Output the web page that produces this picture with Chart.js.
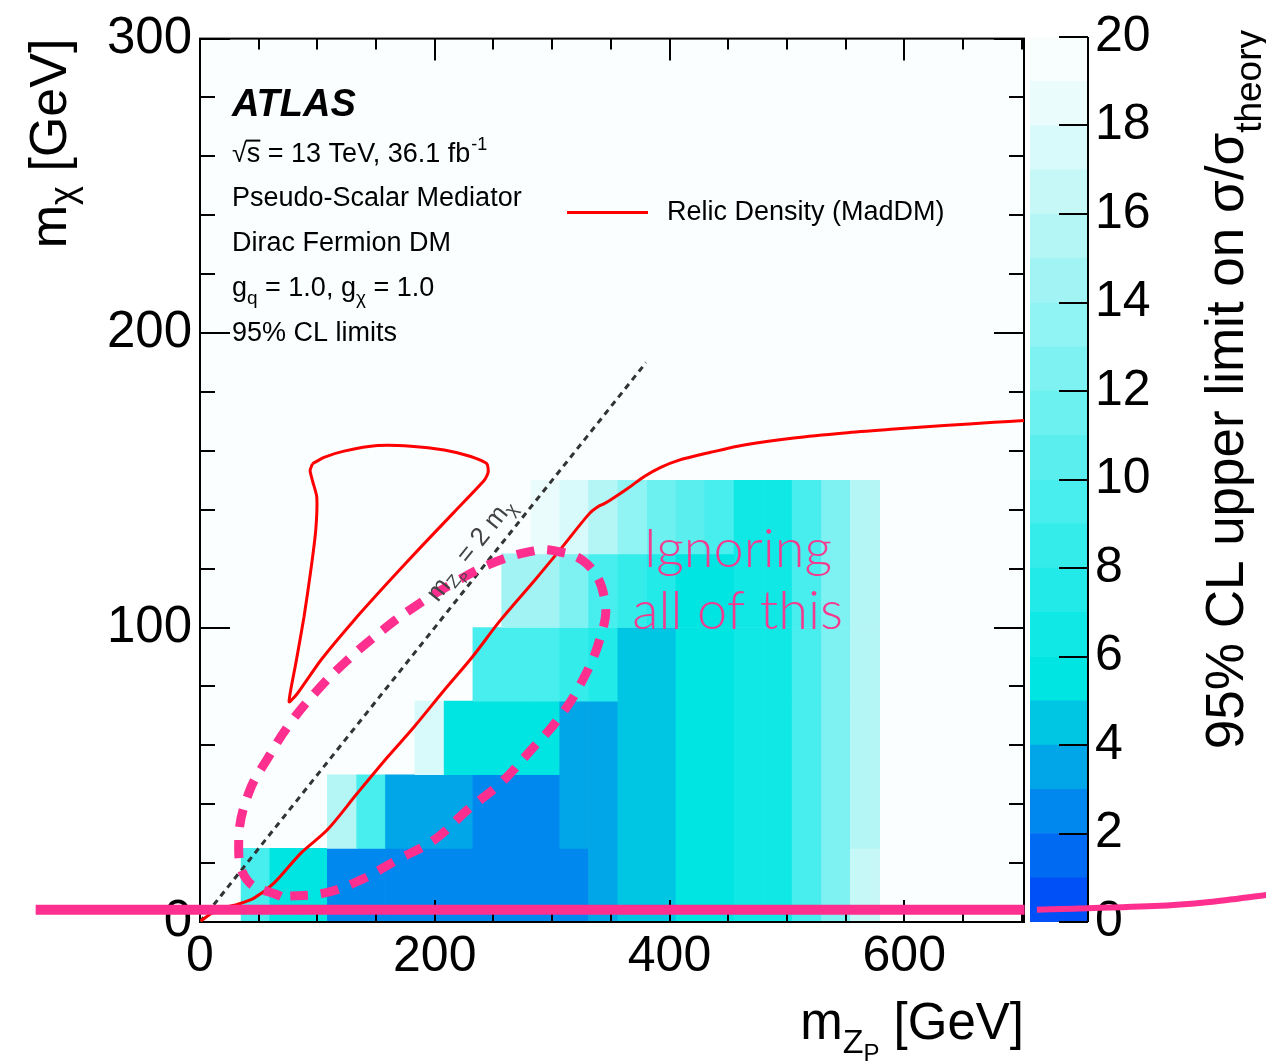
<!DOCTYPE html>
<html>
<head>
<meta charset="utf-8">
<script src="https://cdn.jsdelivr.net/npm/chart.js@4.4.1/dist/chart.umd.min.js"></script>
<style>
  body { margin: 0; background: #fff; }
  #wrap { position: relative; width: 1266px; height: 1064px; }
  #wrap canvas { position: absolute; left: 0; top: 0; }
  #zbar { z-index: 1; }
  #main { z-index: 2; }
</style>
</head>
<body>
<div id="wrap">
  <canvas id="zbar" width="1266" height="1064"></canvas>
  <canvas id="main" width="1266" height="1064"></canvas>
</div>
<script>
// m_Zp bin edges (GeV) and m_chi bin edges (GeV) of the limit histogram
const mZpEdges = [35, 59.5, 84, 108.5, 133.5, 158, 183, 208, 232.5, 257, 282, 306.5,
                  331, 356, 381, 405.5, 430, 455, 480, 504.5, 529.5, 554, 579];
const mChiEdges = [0, 25, 50, 75, 100, 125, 150];

// 95% CL upper limit on sigma/sigma_theory, one row per m_chi bin (bottom to top)
const limitRow0 = [9.5, 5.5, 5.5, 2.5, 2.5, 2.5, 2.5, 2.5, 2.5, 2.5, 2.5, 2.5, 3.5, 4.5, 4.5, 5.5, 5.5, 6.5, 6.5, 9.5, 12.5, 16.5];
const limitRow1 = [null, null, null, 15.5, 9.5, 3.5, 3.5, 3.5, 2.5, 2.5, 2.5, 3.5, 3.5, 4.5, 4.5, 5.5, 5.5, 6.5, 6.5, 9.5, 12.5, 15.5];
const limitRow2 = [null, null, null, null, null, null, 17.5, 5.5, 5.5, 5.5, 5.5, 3.5, 3.5, 4.5, 4.5, 5.5, 5.5, 6.5, 6.5, 9.5, 12.5, 15.5];
const limitRow3 = [null, null, null, null, null, null, null, null, 9.5, 9.5, 9.5, 8.5, 7.5, 4.5, 4.5, 5.5, 5.5, 6.5, 6.5, 9.5, 12.5, 15.5];
const limitRow4 = [null, null, null, null, null, null, null, null, null, 14.5, 14.5, 12.5, 9.5, 8.5, 7.5, 5.5, 5.5, 6.5, 6.5, 9.5, 12.5, 15.5];
const limitRow5 = [null, null, null, null, null, null, null, null, null, null, 18.5, 17.5, 15.5, 13.5, 11.5, 10.5, 9.5, 6.5, 6.5, 9.5, 12.5, 15.5];
const limitRows = [limitRow0, limitRow1, limitRow2, limitRow3, limitRow4, limitRow5];

// relic density (MadDM) contours
const relicMainX = [0.5, 15, 32, 46, 63, 86, 108.5, 134, 160, 182.5, 208, 232, 256, 285, 307.5, 331.5, 339, 344, 350,
                    364, 378.5, 392.5, 407, 435, 463.5, 506, 549, 591.5, 634, 676.5, 702];
const relicMainY = [0.3, 4.2, 6, 8.1, 13.2, 23.4, 31.3, 43.7, 56.1, 66.3, 78.7, 90, 102.5, 116, 126.8, 138.6, 141, 142, 143.4,
                    147.1, 151.3, 154.4, 156.7, 159.5, 162, 164.4, 166.1, 167.4, 168.6, 169.7, 170.3];
const relicLoopX = [95.8, 105.7, 122.7, 151.2, 179.6, 208, 230.7, 244.4, 245.5, 242, 216.5, 188.1, 159.7, 131.3, 102.9,
                    83, 75.9, 81.6, 88.6, 94.4, 98.6, 99.5, 95.8, 93.8, 95.8];
const relicLoopY = [155.6, 157.8, 159.9, 161.8, 161.6, 160.3, 158.1, 155.6, 152.7, 149.9, 139.2, 127.3, 115.1, 102.5, 88.9,
                    77.6, 74.8, 87.8, 103.6, 119.4, 133, 144.3, 149.9, 153.3, 155.6];

// m_Zp = 2 m_chi line
const diagX = [0, 380];
const diagY = [0, 190];

// pink hand-drawn overlay
const pinkLoopX = [69, 40, 33, 41.5, 58.5, 77, 100, 125.5, 155.5, 182.5, 215, 248, 279, 300, 330, 345, 341, 324.5,
                   304.5, 282, 256, 228, 199.5, 168, 137, 105.5, 69];
const pinkLoopY = [8.7, 14.3, 27.9, 43.8, 56.1, 67.6, 78.7, 88.9, 99.1, 107, 114.9, 121.7, 125.6, 126.2, 121.5, 109, 96.5, 81,
                   68.6, 58.4, 47.1, 38.1, 27.9, 21.1, 14.3, 9.8, 8.7];
const pinkLineX = [702.5, -140];
const pinkLineY = [4.2, 4.2];
const pinkTailX = [909, 860, 813, 713];
const pinkTailY = [9.2, 6.8, 5.4, 4.2];

// colour scale bands (value ranges of the z axis)
const zBandLow = [0, 1, 2, 3, 4, 5, 6, 7, 8, 9, 10, 11, 12, 13, 14, 15, 16, 17, 18, 19];

const palette = ['#0050f8', '#006af2', '#0088ee', '#00a6e8', '#00c6e4', '#00e4e2', '#10e8e6', '#22eae8', '#34ecea', '#48eeee',
                 '#5aeeee', '#6cf0f0', '#7ef2f2', '#90f4f4', '#a2f4f4', '#b4f6f6', '#c6f8f8', '#d8fafa', '#eafcfc', '#f8fefe'];
const PINK = '#fe2f8f';
const FONT = "'Liberation Sans', Arial, Helvetica, sans-serif";

Chart.defaults.font.family = FONT;
Chart.defaults.color = '#000';

function bandColor(v) {
  if (v == null) return 'rgba(0,0,0,0)';
  return palette[Math.max(0, Math.min(palette.length - 1, Math.floor(v)))];
}
const toPts = (xs, ys) => xs.map((x, i) => ({x: x, y: ys[i]}));

const cells = [];
limitRows.forEach((row, r) => {
  row.forEach((v, c) => {
    if (v === null) return;
    cells.push({y: (mChiEdges[r] + mChiEdges[r + 1]) / 2, x: [mZpEdges[c], mZpEdges[c + 1]], v: v});
  });
});

// text helpers
function setFont(ctx, p) { ctx.font = (p.w || '') + ' ' + p.s + 'px ' + (p.f || FONT); }
function richWidth(ctx, parts) {
  let w = 0;
  parts.forEach(p => { setFont(ctx, p); w += ctx.measureText(p.t).width; });
  return w;
}
function drawRich(ctx, parts, x, y) {
  let cx = x;
  parts.forEach(p => {
    setFont(ctx, p);
    ctx.fillText(p.t, cx, y + (p.dy || 0));
    cx += ctx.measureText(p.t).width;
  });
  return cx;
}

const mainDecor = {
  id: 'mainDecor',
  beforeDatasetsDraw(chart) {
    const a = chart.chartArea, ctx = chart.ctx;
    ctx.save();
    ctx.fillStyle = '#fafefe';
    ctx.fillRect(a.left, a.top, a.right - a.left, a.bottom - a.top);
    ctx.restore();
  },
  afterDatasetDraw(chart, args) {
    if (chart.data.datasets[args.index].label !== 'cells') return;
    // frame and ROOT style inner ticks, drawn right over the histogram
    const a = chart.chartArea, ctx = chart.ctx, xs = chart.scales.x, ys = chart.scales.y;
    ctx.save();
    ctx.strokeStyle = '#000';
    ctx.lineWidth = 2;
    ctx.strokeRect(a.left, a.top, a.right - a.left, a.bottom - a.top);
    ctx.beginPath();
    for (let v = 0; v <= 700; v += 50) {
      const px = Math.round(xs.getPixelForValue(v));
      const len = v % 200 === 0 ? 22 : 11;
      ctx.moveTo(px, a.bottom); ctx.lineTo(px, a.bottom - len);
      ctx.moveTo(px, a.top); ctx.lineTo(px, a.top + len);
    }
    for (let v = 0; v <= 300; v += 20) {
      const py = Math.round(ys.getPixelForValue(v));
      const len = v % 100 === 0 ? 30 : 15;
      ctx.moveTo(a.left, py); ctx.lineTo(a.left + len, py);
      ctx.moveTo(a.right, py); ctx.lineTo(a.right - len, py);
    }
    ctx.stroke();
    ctx.restore();
  },
  afterDatasetsDraw(chart) {
    const ctx = chart.ctx, xs = chart.scales.x, ys = chart.scales.y;
    ctx.save();
    // "Ignoring all of this"
    ctx.fillStyle = '#f43a8f';
    ctx.textAlign = 'center';
    ctx.textBaseline = 'alphabetic';
    ctx.font = "300 54px Lato, 'Open Sans', " + FONT;
    ctx.fillText('Ignoring', xs.getPixelForValue(458), ys.getPixelForValue(120.4));
    ctx.fillText('all of this', xs.getPixelForValue(458), ys.getPixelForValue(99.4));
    ctx.restore();
  },
  afterDraw(chart) {
    const a = chart.chartArea, ctx = chart.ctx, xs = chart.scales.x, ys = chart.scales.y;
    ctx.save();
    ctx.fillStyle = '#000';
    ctx.textAlign = 'left';
    ctx.textBaseline = 'alphabetic';
    const tx = a.left + 32;
    ctx.font = 'italic bold 38px ' + FONT;
    ctx.fillText('ATLAS', tx, a.top + 77);

    // sqrt(s) line
    let cx = drawRich(ctx, [{t: '\u221A', s: 27}], tx, a.top + 123);
    const sx = cx;
    cx = drawRich(ctx, [{t: 's', s: 27}], cx, a.top + 123);
    ctx.fillRect(sx - 1, a.top + 123 - 22, cx - sx + 1, 2);
    cx = drawRich(ctx, [{t: ' = 13 TeV, 36.1 fb', s: 27}], cx, a.top + 123);
    drawRich(ctx, [{t: '-1', s: 18, dy: -12}], cx + 1, a.top + 123);

    drawRich(ctx, [{t: 'Pseudo-Scalar Mediator', s: 27}], tx, a.top + 167);
    drawRich(ctx, [{t: 'Dirac Fermion DM', s: 27}], tx, a.top + 212);
    drawRich(ctx, [{t: 'g', s: 27}, {t: 'q', s: 19, dy: 8}, {t: ' = 1.0, g', s: 27}, {t: '\u03C7', s: 19, dy: 8},
                   {t: ' = 1.0', s: 27}], tx, a.top + 257);
    drawRich(ctx, [{t: '95% CL limits', s: 27}], tx, a.top + 302);

    // legend
    ctx.strokeStyle = '#ff0000';
    ctx.lineWidth = 3;
    ctx.beginPath();
    ctx.moveTo(a.left + 367, a.top + 174);
    ctx.lineTo(a.left + 448, a.top + 174);
    ctx.stroke();
    drawRich(ctx, [{t: 'Relic Density (MadDM)', s: 27}], a.left + 467, a.top + 181);

    // label along the m_Zp = 2 m_chi line
    const p0x = xs.getPixelForValue(diagX[0]), p0y = ys.getPixelForValue(diagY[0]);
    const p1x = xs.getPixelForValue(diagX[1]), p1y = ys.getPixelForValue(diagY[1]);
    const ang = Math.atan2(p1y - p0y, p1x - p0x);
    const lab = [{t: 'm', s: 26}, {t: 'Z', s: 18, dy: 5}, {t: 'P', s: 13, dy: 10}, {t: ' = 2 m', s: 26}, {t: '\u03C7', s: 18, dy: 5}];
    ctx.save();
    ctx.fillStyle = '#444';
    ctx.translate(xs.getPixelForValue(244), ys.getPixelForValue(122));
    ctx.rotate(ang);
    drawRich(ctx, lab, -richWidth(ctx, lab) / 2, -13);
    ctx.restore();

    // y axis title
    const yt = [{t: 'm', s: 52}, {t: '\u03C7', s: 36, dy: 9}, {t: ' [GeV]', s: 52}];
    ctx.save();
    ctx.translate(66, a.top + richWidth(ctx, yt));
    ctx.rotate(-Math.PI / 2);
    drawRich(ctx, yt, 0, 0);
    ctx.restore();

    // x axis title
    const xt = [{t: 'm', s: 51}, {t: 'Z', s: 34, dy: 14}, {t: 'P', s: 24, dy: 22}, {t: ' [GeV]', s: 51}];
    drawRich(ctx, xt, a.right - richWidth(ctx, xt), a.bottom + 117);
    ctx.restore();
  }
};

const lineBase = {type: 'line', pointRadius: 0, fill: false, borderCapStyle: 'butt'};

new Chart(document.getElementById('main'), {
  type: 'bar',
  data: {
    datasets: [
      Object.assign({}, lineBase, {label: 'pinkLoop', data: toPts(pinkLoopX, pinkLoopY), borderColor: PINK,
        borderWidth: 9, borderDash: [18, 13], tension: 0.4, order: 0, clip: false}),
      Object.assign({}, lineBase, {label: 'pinkLine', data: toPts(pinkLineX, pinkLineY), borderColor: PINK,
        borderWidth: 10, order: 0, clip: false}),
      Object.assign({}, lineBase, {label: 'pinkTail', data: toPts(pinkTailX, pinkTailY), borderColor: PINK,
        borderWidth: 6, tension: 0.3, order: 0, clip: false}),
      Object.assign({}, lineBase, {label: 'relic', data: toPts(relicMainX, relicMainY), borderColor: '#ff0000',
        borderWidth: 3, tension: 0.3, order: 1}),
      Object.assign({}, lineBase, {label: 'relicLoop', data: toPts(relicLoopX, relicLoopY), borderColor: '#ff0000',
        borderWidth: 3, tension: 0.2, order: 1}),
      Object.assign({}, lineBase, {label: 'diag', data: toPts(diagX, diagY), borderColor: '#333',
        borderWidth: 3, borderDash: [6, 5], order: 2}),
      {type: 'bar', label: 'cells', indexAxis: 'y', data: cells, order: 3,
        backgroundColor: ctx => bandColor(ctx.raw && ctx.raw.v),
        borderWidth: 0, barPercentage: 1, categoryPercentage: 1}
    ]
  },
  options: {
    responsive: false,
    animation: false,
    devicePixelRatio: 1,
    layout: {padding: {left: 0, right: 242, top: 36, bottom: 0}},
    plugins: {legend: {display: false}, tooltip: {enabled: false}},
    scales: {
      x: {
        type: 'linear', min: 0, max: 702, offset: false,
        grid: {display: false, drawTicks: false}, border: {display: false},
        ticks: {stepSize: 200, includeBounds: false, autoSkip: false, maxRotation: 0, padding: 5,
                color: '#000', font: {size: 50}},
        afterFit: s => { s.height = 142; }
      },
      y: {
        type: 'linear', min: 0, max: 300, offset: false,
        grid: {display: false, drawTicks: false}, border: {display: false},
        ticks: {stepSize: 100, padding: 8, color: '#000', font: {size: 51}},
        afterFit: s => { s.width = 200; }
      }
    }
  },
  plugins: [mainDecor]
});

// colour bar
const zDecor = {
  id: 'zDecor',
  afterDatasetsDraw(chart) {
    const a = chart.chartArea, ctx = chart.ctx, ys = chart.scales.y;
    ctx.save();
    ctx.strokeStyle = '#000';
    ctx.lineWidth = 2;
    ctx.beginPath();
    ctx.moveTo(a.right, a.top); ctx.lineTo(a.right, a.bottom);
    for (let v = 0; v <= 20; v += 2) {
      const py = Math.round(ys.getPixelForValue(v));
      ctx.moveTo(a.right, py); ctx.lineTo(a.right - 29, py);
    }
    ctx.stroke();
    ctx.restore();
  },
  afterDraw(chart) {
    const ctx = chart.ctx;
    const zt = [{t: '95% CL upper limit on \u03C3/\u03C3', s: 53}, {t: 'theory', s: 37, dy: 18}];
    ctx.save();
    ctx.fillStyle = '#000';
    ctx.textBaseline = 'alphabetic';
    ctx.translate(1243, 30 + richWidth(ctx, zt));
    ctx.rotate(-Math.PI / 2);
    drawRich(ctx, zt, 0, 0);
    ctx.restore();
  }
};

new Chart(document.getElementById('zbar'), {
  type: 'bar',
  data: {
    labels: [''],
    datasets: zBandLow.map(k => ({
      data: [1], backgroundColor: bandColor(k), borderWidth: 0,
      barPercentage: 1, categoryPercentage: 1
    }))
  },
  options: {
    responsive: false,
    animation: false,
    devicePixelRatio: 1,
    layout: {padding: {left: 1030, right: 0, top: 36, bottom: 142}},
    plugins: {legend: {display: false}, tooltip: {enabled: false}},
    scales: {
      x: {display: false, stacked: true},
      y: {
        stacked: true, position: 'right', min: 0, max: 20,
        grid: {display: false, drawTicks: false}, border: {display: false},
        ticks: {stepSize: 2, padding: 7, color: '#000', font: {size: 50}},
        afterFit: s => { s.width = 178; }
      }
    }
  },
  plugins: [zDecor]
});
</script>
</body>
</html>
